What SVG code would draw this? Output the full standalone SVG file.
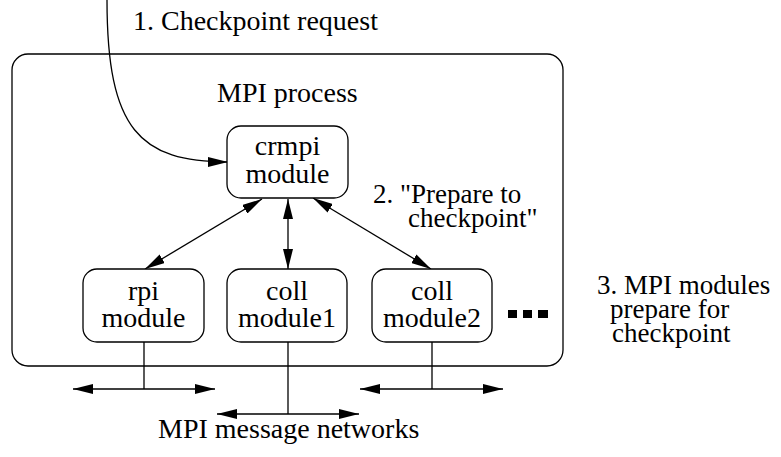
<svg xmlns="http://www.w3.org/2000/svg" width="781" height="457" viewBox="0 0 781 457">
<style>
.box{fill:#fff;stroke:#000;stroke-width:1.3}
.ln{fill:none;stroke:#000;stroke-width:1.3}
text{font-family:'Liberation Serif','Times New Roman','DejaVu Serif',serif;font-size:28px;fill:#000}
.m{text-anchor:middle}
.s{font-size:27px}
</style>
<defs>
<marker id="ah" markerUnits="userSpaceOnUse" markerWidth="20" markerHeight="10" refX="20" refY="5" orient="auto-start-reverse" viewBox="0 0 20 10">
<path d="M0,0 L20,5 L0,10 z" fill="#000"/>
</marker>
</defs>
<rect width="781" height="457" fill="#fff"/>
<g id="mpi-process">
<rect class="box" x="12" y="54" width="551" height="312" rx="16"/>
<text x="217" y="102">MPI process</text>
</g>
<g id="connectors">
<path class="ln" d="M107,0 C107,130 140,162 228,162" marker-end="url(#ah)"/>
<line class="ln" x1="262" y1="199" x2="145" y2="269" marker-start="url(#ah)" marker-end="url(#ah)"/>
<line class="ln" x1="288" y1="199" x2="288" y2="269" marker-start="url(#ah)" marker-end="url(#ah)"/>
<line class="ln" x1="313" y1="198" x2="431" y2="269" marker-start="url(#ah)" marker-end="url(#ah)"/>
<line class="ln" x1="144" y1="342" x2="144" y2="389"/>
<line class="ln" x1="73" y1="389" x2="215" y2="389" marker-start="url(#ah)" marker-end="url(#ah)"/>
<line class="ln" x1="288" y1="342" x2="288" y2="414"/>
<line class="ln" x1="217" y1="414" x2="359" y2="414" marker-start="url(#ah)" marker-end="url(#ah)"/>
<line class="ln" x1="432" y1="342" x2="432" y2="389"/>
<line class="ln" x1="360" y1="389" x2="503" y2="389" marker-start="url(#ah)" marker-end="url(#ah)"/>
</g>
<g id="crmpi">
<rect class="box" x="227" y="126" width="121" height="72" rx="14"/>
<text class="m" x="287.5" y="155">crmpi</text>
<text class="m" x="287.5" y="183">module</text>
</g>
<g id="rpi">
<rect class="box" x="83" y="269" width="121" height="73" rx="14"/>
<text class="m" x="143.5" y="300">rpi</text>
<text class="m" x="143.5" y="327">module</text>
</g>
<g id="coll1">
<rect class="box" x="227" y="269" width="120" height="73" rx="14"/>
<text class="m" x="287" y="300">coll</text>
<text class="m" x="287" y="327">module1</text>
</g>
<g id="coll2">
<rect class="box" x="372" y="269" width="120" height="73" rx="14"/>
<text class="m" x="432" y="300">coll</text>
<text class="m" x="432" y="327">module2</text>
</g>
<g id="ellipsis">
<rect x="508" y="310" width="9" height="8" fill="#000"/>
<rect x="523" y="310" width="9" height="8" fill="#000"/>
<rect x="538" y="310" width="10" height="8" fill="#000"/>
</g>
<g id="labels">
<text x="133" y="30">1. Checkpoint request</text>
<text class="s" x="373" y="203">2. "Prepare to</text>
<text class="s" x="408" y="227">checkpoint"</text>
<text class="s" x="597" y="294">3. MPI modules</text>
<text class="s" x="610" y="318">prepare for</text>
<text class="s" x="612" y="342">checkpoint</text>
<text x="158" y="438">MPI message networks</text>
</g>
</svg>
